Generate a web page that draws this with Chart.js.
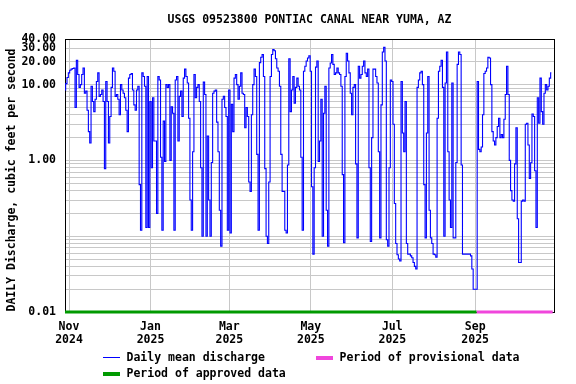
<!DOCTYPE html>
<html><head><meta charset="utf-8">
<script src="https://cdn.jsdelivr.net/npm/chart.js@4/dist/chart.umd.min.js"></script>
<style>html,body{margin:0;padding:0;background:#fff}#wrap{width:576px;height:384px}</style>
</head><body><div id="wrap"><canvas id="c" width="576" height="384"></canvas></div>
<script>
const chartTitle = 'USGS 09523800 PONTIAC CANAL NEAR YUMA, AZ';
const yAxisTitle = 'DAILY Discharge, cubic feet per second';
const firstDate = '2024-10-29';
// Daily mean discharge, cfs, one value per day starting at firstDate
const dischargeCfs = [
  8.5, 10.3, 12.4, 14.3, 15.5, 16, 16.3, 16.6, 5, 21,
  13.6, 9.2, 10, 13.6, 16.6, 7.7, 8.2, 4.6, 2.4, 1.7,
  9.5, 6, 4.4, 6.4, 11, 14.3, 7, 7.4, 8.5, 6,
  0.78, 11, 6, 1.7, 3.8, 9.2, 16.6, 15, 7, 7.4,
  6.4, 4, 10, 8.5, 7.7, 6.7, 4.6, 2.4, 12.2, 13.6,
  14, 8.5, 5.4, 4.6, 8.5, 9.5, 0.48, 0.12, 14.3, 12.8,
  9.5, 0.13, 12.8, 0.13, 6, 0.8, 6.7, 1.8, 1.8, 0.2,
  12.8, 11.5, 1.1, 0.12, 3.3, 0.97, 10, 9.2, 10, 1.0,
  5.1, 4.2, 0.12, 11.5, 12.8, 1.8, 7, 8.2, 3.8, 12.2,
  16, 12.8, 10.5, 3.6, 0.3, 0.12, 1.3, 13.6, 6.7, 9.2,
  10, 6, 0.8, 0.1, 10.8, 7.4, 0.1, 2.1, 0.3, 0.1,
  0.94, 7.7, 8.2, 8.5, 3.2, 1.3, 0.22, 0.074, 6.4, 7,
  5, 3.8, 0.12, 8.5, 0.11, 5.5, 2.4, 12.2, 13.6, 10,
  6.4, 9.5, 14.3, 7.7, 7.4, 2.7, 5, 3.8, 0.52, 0.39,
  4, 10, 16, 12.8, 1.2, 0.12, 19.5, 23, 25, 12.8,
  0.78, 0.1, 0.08, 0.52, 12.8, 25, 29, 28, 22, 16.6,
  15, 9.5, 1.2, 0.39, 0.39, 0.12, 0.11, 0.87, 22, 4.4,
  8.5, 12.8, 5.7, 9.2, 12.2, 9.5, 8.5, 1.1, 0.12, 15,
  17.5, 20.5, 22.5, 24, 15, 0.45, 0.058, 0.8, 17, 20.5,
  0.97, 1.8, 6.4, 0.1, 4.2, 9.5, 0.22, 0.074, 16.6, 19.3,
  25, 18.5, 13.6, 14.3, 16.6, 14.3, 13.6, 9.5, 0.65, 0.082,
  12.8, 26, 20.5, 14.3, 7.7, 4, 9.2, 10, 0.9, 0.095,
  17.5, 12.2, 13.6, 17.5, 20.5, 14.3, 12.8, 16, 0.8, 0.085,
  2, 16, 16, 12.8, 10.5, 1.3, 0.095, 5.4, 27, 31,
  20.5, 0.09, 0.074, 0.8, 11.5, 11, 3, 0.27, 0.08, 0.057,
  0.05, 0.047, 11, 2.3, 1.3, 6, 0.08, 0.058, 0.058, 0.055,
  0.052, 0.045, 0.04, 0.037, 9.2, 11.5, 14.3, 15, 10, 0.48,
  0.095, 2.3, 12.8, 0.22, 0.095, 0.08, 0.058, 0.057, 0.053, 3.6,
  15, 17.5, 21, 9.2, 0.1, 10.5, 27, 1.3, 0.3, 0.13,
  10.5, 0.095, 0.095, 0.94, 18.5, 27, 25, 0.87, 0.058, 0.058,
  0.058, 0.058, 0.058, 0.058, 0.055, 0.037, 0.02, 0.02, 0.02, 11,
  1.4, 1.3, 1.5, 4, 14, 15, 16.6, 23, 22.5, 10,
  2.4, 1.8, 1.6, 2, 2.8, 3.6, 2, 2.2, 2, 3.5,
  7.4, 17.5, 7.4, 1.0, 0.4, 0.3, 0.29, 0.9, 2.7, 0.17,
  0.045, 0.045, 0.29, 0.3, 0.29, 3, 3.1, 1.6, 0.58, 0.93,
  4.1, 3.8, 0.73, 0.13, 6.7, 3.1, 12.2, 4.4, 3, 7.7,
  10, 8.5, 9.5, 12.2, 14.3
];
const xAxisStart = '2024-10-29';
const xAxisEnd = '2025-10-30';
const tickDates = ['2024-11-01','2025-01-01','2025-03-01','2025-05-01','2025-07-01','2025-09-01'];
const tickLabels = [['Nov','2024'],['Jan','2025'],['Mar','2025'],['May','2025'],['Jul','2025'],['Sep','2025']];
const yMajorValues = [0.01, 1, 10, 20, 30, 40];
const yMajorLabels = ['0.01', '1.00', '10.00', '20.00', '30.00', '40.00'];
const yGridValues = [0.01,0.02,0.03,0.04,0.05,0.06,0.07,0.08,0.09,
                     0.1,0.2,0.3,0.4,0.5,0.6,0.7,0.8,0.9,
                     1,2,3,4,5,6,7,8,9,10,20,30,40];
const approvedPeriod = ['2024-10-29','2025-09-02'];
const provisionalPeriod = ['2025-09-02','2025-10-29'];
const legendLabels = ['Daily mean discharge','Period of provisional data','Period of approved data'];
const colors = {line:'#0000ff', approved:'#009a00', provisional:'#f046dc', grid:'#c8c8c8'};

const DAY = 86400000;
const dayOf = s => (Date.parse(s) - Date.parse(firstDate)) / DAY;
const FONT = "bold 11.5px 'DejaVu Sans Mono'";

const decorations = {
  id: 'decorations',
  beforeDatasetsDraw(chart) {
    const {ctx, chartArea: a} = chart;
    ctx.save();
    ctx.strokeStyle = '#000'; ctx.lineWidth = 1;
    ctx.strokeRect(a.left + 0.5, a.top + 0.5, a.right - a.left, a.bottom - a.top);
    ctx.restore();
  },
  afterDraw(chart) {
    const {ctx, chartArea: a} = chart;
    ctx.save();
    ctx.font = FONT; ctx.fillStyle = '#000';
    ctx.textBaseline = 'middle';
    ctx.textAlign = 'center';
    ctx.fillText(chartTitle, (a.left + a.right) / 2, 20);
    ctx.save();
    ctx.translate(12, 180); ctx.rotate(-Math.PI / 2);
    ctx.fillText(yAxisTitle, 0, 0);
    ctx.restore();
    ctx.textAlign = 'left';
    // legend
    ctx.fillStyle = colors.line;
    ctx.fillRect(103, 357, 17, 1);
    ctx.fillStyle = '#000';
    ctx.fillText(legendLabels[0], 126.5, 358);
    ctx.fillStyle = colors.provisional;
    ctx.fillRect(316, 356, 17, 4);
    ctx.fillStyle = '#000';
    ctx.fillText(legendLabels[1], 339.5, 358);
    ctx.fillStyle = colors.approved;
    ctx.fillRect(103, 372, 17, 4);
    ctx.fillStyle = '#000';
    ctx.fillText(legendLabels[2], 126.5, 374);
    ctx.restore();
  }
};

new Chart(document.getElementById('c'), {
  type: 'line',
  data: {
    datasets: [
      { data: approvedPeriod.map(d => ({x: dayOf(d), y: 0.01})), borderColor: colors.approved,
        borderWidth: 3, pointRadius: 0, clip: false, borderCapStyle: 'butt' },
      { data: provisionalPeriod.map(d => ({x: dayOf(d), y: 0.01})), borderColor: colors.provisional,
        borderWidth: 3, pointRadius: 0, clip: false, borderCapStyle: 'butt' },
      { data: dischargeCfs.map((v, i) => ({x: i, y: v})), borderColor: colors.line,
        borderWidth: 1.1, pointRadius: 0, tension: 0, stepped: 'middle' }
    ]
  },
  options: {
    responsive: false, devicePixelRatio: 1, animation: false,
    layout: { padding: { top: 39, right: 22, bottom: 0, left: 0 } },
    plugins: { legend: { display: false }, title: { display: false }, tooltip: { enabled: false } },
    scales: {
      x: {
        type: 'linear', min: dayOf(xAxisStart), max: dayOf(xAxisEnd),
        afterBuildTicks: s => { s.ticks = tickDates.map(d => ({value: dayOf(d)})); },
        afterFit: s => { s.height = 72; },
        grid: { color: colors.grid, lineWidth: 1, drawTicks: false },
        border: { display: false },
        ticks: {
          autoSkip: false, maxRotation: 0, padding: 8, color: '#000',
          font: { family: 'DejaVu Sans Mono', size: 11.5, weight: 'bold', lineHeight: 1.16 },
          callback: (v, i) => tickLabels[i]
        }
      },
      y: {
        type: 'logarithmic', min: 0.01, max: 40,
        afterBuildTicks: s => { s.ticks = yGridValues.map(v => ({value: v})); },
        afterFit: s => { s.width = 65; },
        grid: { color: colors.grid, lineWidth: 1, drawTicks: false },
        border: { display: false },
        ticks: {
          autoSkip: false, padding: 9, color: '#000',
          font: { family: 'DejaVu Sans Mono', size: 11.5, weight: 'bold' },
          callback: v => { const i = yMajorValues.indexOf(v); return i >= 0 ? yMajorLabels[i] : ''; }
        }
      }
    }
  },
  plugins: [decorations]
});
</script></body></html>
